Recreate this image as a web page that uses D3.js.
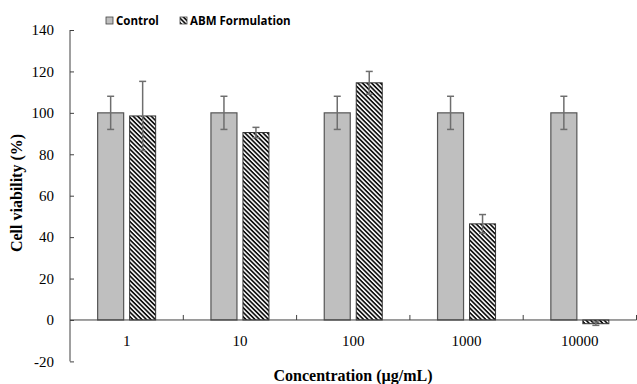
<!DOCTYPE html>
<html>
<head>
<meta charset="utf-8">
<script src="https://cdn.jsdelivr.net/npm/d3@7"></script>
<style>
body { margin: 0; background: #fff; }
svg { display: block; }
</style>
</head>
<body>
<svg id="chart" width="637" height="384"></svg>
<script>
var categories = ["1", "10", "100", "1000", "10000"];
var controlValues = [100, 100, 100, 100, 100];
var controlErrors = [8, 8, 8, 8, 8];
var abmValues = [98.5, 90.5, 114.5, 46.4, -1.8];
var abmErrors = [16.7, 2.5, 5.5, 4.5, 0.8];
var yTicks = [-20, 0, 20, 40, 60, 80, 100, 120, 140];
var seriesNames = ["Control", "ABM Formulation"];

var svg = d3.select("#chart");
var mLeft = 70, mRight = 636.5, mTop = 30, mBottom = 361.4;

var y = d3.scaleLinear().domain([-20, 140]).range([mBottom, mTop]);
var x = d3.scaleBand().domain(categories).range([mLeft, mRight]);

// hatch pattern (lines running top-left to bottom-right)
var defs = svg.append("defs");
var pat = defs.append("pattern")
    .attr("id", "hatch")
    .attr("patternUnits", "userSpaceOnUse")
    .attr("width", 3.2).attr("height", 3.2)
    .attr("patternTransform", "rotate(45)");
pat.append("rect").attr("width", 3.2).attr("height", 3.2).attr("fill", "#fff");
pat.append("rect").attr("width", 3.2).attr("height", 1.7).attr("fill", "#111");

var barW = 26, gap = 6;

// y axis
var yAxis = d3.axisLeft(y).tickValues(yTicks).tickSize(-4).tickPadding(16)
    .tickFormat(function(d) { return String(d); });
var gy = svg.append("g").attr("transform", "translate(" + mLeft + ",0)").call(yAxis);
gy.select(".domain").attr("stroke", "#404040").attr("d", "M0," + mTop + "V" + mBottom);
gy.selectAll(".tick line").attr("stroke", "#404040");
gy.selectAll(".tick text")
    .attr("font-family", "'Liberation Serif', 'Times New Roman', serif")
    .attr("font-size", 15).attr("fill", "#000");

// bars
var groups = svg.selectAll(".cat")
    .data(categories)
    .enter().append("g")
    .attr("class", "cat");

groups.append("rect")
    .attr("x", function(d) { return x(d) + x.bandwidth() / 2 - gap / 2 - barW; })
    .attr("y", function(d, i) { return y(Math.max(0, controlValues[i])); })
    .attr("width", barW)
    .attr("height", function(d, i) { return Math.abs(y(controlValues[i]) - y(0)); })
    .attr("fill", "#bfbfbf")
    .attr("stroke", "#555")
    .attr("stroke-width", 1.2);

groups.append("rect")
    .attr("x", function(d) { return x(d) + x.bandwidth() / 2 + gap / 2; })
    .attr("y", function(d, i) { return y(Math.max(0, abmValues[i])); })
    .attr("width", barW)
    .attr("height", function(d, i) { return Math.abs(y(abmValues[i]) - y(0)); })
    .attr("fill", "url(#hatch)")
    .attr("stroke", "#333")
    .attr("stroke-width", 1);

// error bars
function errBars(vals, errs, offset) {
  var g = svg.append("g").attr("stroke", "#6e6e6e").attr("stroke-width", 1.5);
  categories.forEach(function(c, i) {
    var cx = x(c) + x.bandwidth() / 2 + offset;
    g.append("line").attr("x1", cx).attr("x2", cx)
      .attr("y1", y(vals[i] - errs[i])).attr("y2", y(vals[i] + errs[i]));
    g.append("line").attr("x1", cx - 3.5).attr("x2", cx + 3.5)
      .attr("y1", y(vals[i] + errs[i])).attr("y2", y(vals[i] + errs[i]));
    g.append("line").attr("x1", cx - 3.5).attr("x2", cx + 3.5)
      .attr("y1", y(vals[i] - errs[i])).attr("y2", y(vals[i] - errs[i]));
  });
}
errBars(controlValues, controlErrors, -gap / 2 - barW / 2);
errBars(abmValues, abmErrors, gap / 2 + barW / 2);

// x axis at zero
var gx = svg.append("g").attr("transform", "translate(0," + y(0) + ")");
gx.append("line").attr("x1", mLeft).attr("x2", mRight).attr("stroke", "#404040");
gx.selectAll(".xt")
    .data(categories)
    .enter().append("line")
    .attr("x1", function(d) { return x(d) + x.bandwidth(); })
    .attr("x2", function(d) { return x(d) + x.bandwidth(); })
    .attr("y1", 0).attr("y2", -5)
    .attr("stroke", "#404040");
gx.selectAll(".xl")
    .data(categories)
    .enter().append("text")
    .attr("x", function(d) { return x(d) + x.bandwidth() / 2; })
    .attr("y", 26)
    .attr("text-anchor", "middle")
    .attr("font-family", "'Liberation Serif', 'Times New Roman', serif")
    .attr("font-size", 15)
    .text(function(d) { return d; });

// axis titles
svg.append("text")
    .attr("x", 353).attr("y", 381)
    .attr("text-anchor", "middle")
    .attr("font-family", "'Liberation Serif', 'Times New Roman', serif")
    .attr("font-weight", "bold")
    .attr("font-size", 16)
    .text("Concentration (µg/mL)");

svg.append("text")
    .attr("transform", "translate(22,193) rotate(-90)")
    .attr("text-anchor", "middle")
    .attr("font-family", "'Liberation Serif', 'Times New Roman', serif")
    .attr("font-weight", "bold")
    .attr("font-size", 16)
    .text("Cell viability (%)");

// legend
var legendX = [106, 180];
var legend = svg.selectAll(".legend")
    .data(seriesNames)
    .enter().append("g")
    .attr("class", "legend")
    .attr("transform", function(d, i) { return "translate(" + legendX[i] + ",17)"; });
legend.append("rect")
    .attr("width", 7).attr("height", 7)
    .attr("fill", function(d, i) { return i === 0 ? "#bfbfbf" : "url(#hatch)"; })
    .attr("stroke", "#444").attr("stroke-width", 0.8);
legend.append("text")
    .attr("x", 10).attr("y", 7.5)
    .attr("font-family", "'Open Sans', 'Liberation Sans', sans-serif")
    .attr("font-weight", "bold")
    .attr("font-size", 11.5)
    .text(function(d) { return d; });
</script>
</body>
</html>
